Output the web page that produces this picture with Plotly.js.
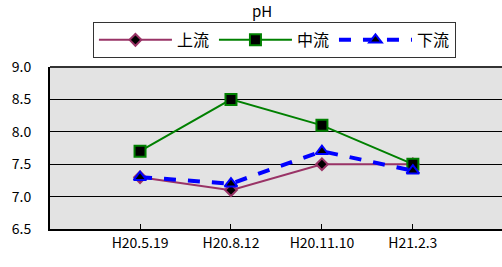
<!DOCTYPE html>
<html><head><meta charset="utf-8">
<script src="https://cdn.plot.ly/plotly-3.0.1.min.js"></script>
<style>html,body{margin:0;padding:0;background:#fff;}#c{width:502px;height:267px;}</style>
</head><body><div id="c"></div>
<script>
const dates = ["H20.5.19", "H20.8.12", "H20.11.10", "H21.2.3"];
const upstream = [7.3, 7.1, 7.5, 7.5];
const midstream = [7.7, 8.5, 8.1, 7.5];
const downstream = [7.3, 7.2, 7.7, 7.4];
const yTicks = [6.5, 7.0, 7.5, 8.0, 8.5, 9.0];

const font = "Noto Sans CJK JP, Liberation Sans, sans-serif";
const traces = [
  {x: dates, y: upstream, name: "上流", type: "scatter", mode: "lines+markers",
   line: {color: "#993366", width: 2},
   marker: {symbol: "diamond", size: 9, color: "#000", line: {color: "#993366", width: 2}}},
  {x: dates, y: midstream, name: "中流", type: "scatter", mode: "lines+markers",
   line: {color: "#008000", width: 2},
   marker: {symbol: "square", size: 11, color: "#000", line: {color: "#008000", width: 2}}},
  {x: dates, y: downstream, name: "下流", type: "scatter", mode: "lines+markers",
   line: {color: "#0000ff", width: 4, dash: "dash"},
   marker: {symbol: "triangle-up", size: 11, color: "#000", line: {color: "#0000ff", width: 2}}}
];
const layout = {
  width: 502, height: 267,
  margin: {l: 50, r: 0, t: 67, b: 38},
  paper_bgcolor: "#fff", plot_bgcolor: "#e3e3e3",
  font: {family: font, size: 14, color: "#000"},
  title: {text: "pH", x: 0.522, xanchor: "center", y: 0.955, yanchor: "middle", font: {family: font, size: 15}},
  showlegend: true,
  legend: {orientation: "h", x: 0.095, xanchor: "left", y: 1.278, yanchor: "top",
    bordercolor: "#333", borderwidth: 1, bgcolor: "#fff",
    font: {family: font, size: 16}, itemwidth: 73, tracegroupgap: 0},
  xaxis: {type: "category", range: [-0.99, 3.98], showgrid: false,
    showline: true, linecolor: "#000", linewidth: 2, mirror: false,
    ticks: "inside", ticklen: 5, tickcolor: "#000", tickfont: {size: 14}, zeroline: false},
  yaxis: {range: [6.5, 9.0], tickvals: yTicks, ticktext: yTicks.map(v => v.toFixed(1)),
    showgrid: true, gridcolor: "#000", gridwidth: 1,
    showline: true, linecolor: "#000", linewidth: 2, ticks: "", ticklabelstandoff: 14,
    tickfont: {size: 14}, zeroline: false},
  shapes: [{type: "line", xref: "paper", yref: "paper", x0: 0, x1: 1, y0: 1, y1: 1,
    line: {color: "#333", width: 2}}]
};
Plotly.newPlot("c", traces, layout, {displayModeBar: false, staticPlot: true});
</script></body></html>
